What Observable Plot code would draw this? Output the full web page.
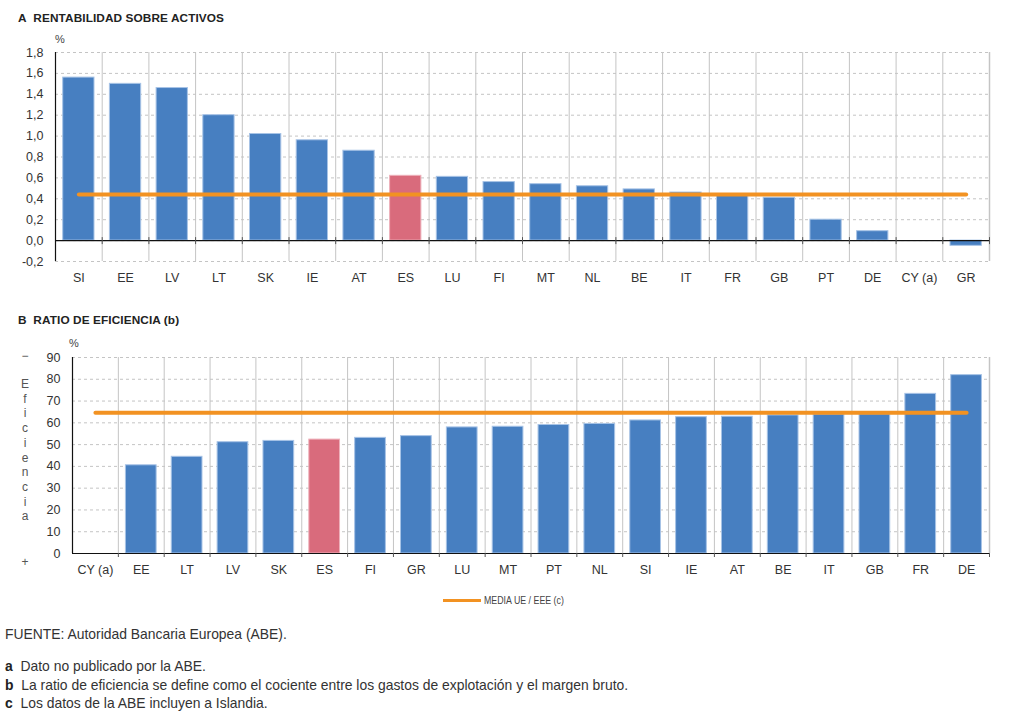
<!DOCTYPE html>
<html lang="es">
<head>
<meta charset="utf-8">
<script src="https://cdn.jsdelivr.net/npm/d3@7"></script>
<script src="https://cdn.jsdelivr.net/npm/@observablehq/plot@0.6"></script>
<style>
  body { margin: 0; background: #fff; }
  #root { position: relative; width: 1024px; height: 724px; font-family: "Liberation Sans", Arial, sans-serif; color: #333; overflow: hidden; }
  .abs { position: absolute; white-space: nowrap; }
  .title { font-size: 11.8px; font-weight: bold; color: #222; letter-spacing: 0.1px; }
  .pct { font-size: 11px; color: #444; }
  .vlabel { font-size: 12px; color: #555; line-height: 14.7px; text-align: center; width: 12px; }
  .note { font-size: 13.9px; color: #333; }
  .note b { font-weight: bold; color: #222; }
  .legend { font-size: 10.5px; color: #444; display: flex; align-items: center; }
  .legend span.sw { display: inline-block; width: 38px; height: 3px; margin-right: 3px; }
  .legend span.tx { display: inline-block; transform: scaleX(0.84); transform-origin: left center; }
</style>
</head>
<body>
<div id="root">
  <div class="abs title" style="left:18px; top:11px;">A&nbsp;&nbsp;RENTABILIDAD SOBRE ACTIVOS</div>
  <div class="abs pct" style="left:55px; top:33px;">%</div>
  <div id="chartA" class="abs" style="left:0; top:30px;"></div>

  <div class="abs title" style="left:18px; top:313px;">B&nbsp;&nbsp;RATIO DE EFICIENCIA (b)</div>
  <div class="abs pct" style="left:69px; top:337px;">%</div>
  <div class="abs vlabel" style="left:19px; top:349px;">−</div>
  <div id="vword" class="abs vlabel" style="left:19px; top:377px;"></div>
  <div class="abs vlabel" style="left:19px; top:555px;">+</div>
  <div id="chartB" class="abs" style="left:0; top:340px;"></div>

  <div id="legend" class="abs legend" style="left:443px; top:594px;"></div>

  <div class="abs note" style="left:5px; top:626px;">FUENTE: Autoridad Bancaria Europea (ABE).</div>
  <div class="abs note" style="left:5px; top:658px;"><b>a</b>&nbsp; Dato no publicado por la ABE.</div>
  <div class="abs note" style="left:5px; top:677px;"><b>b</b>&nbsp; La ratio de eficiencia se define como el cociente entre los gastos de explotación y el margen bruto.</div>
  <div class="abs note" style="left:5px; top:695px;"><b>c</b>&nbsp; Los datos de la ABE incluyen a Islandia.</div>
</div>

<script>
// Panel A: return on assets (%), by country
const catsA = ["SI", "EE", "LV", "LT", "SK", "IE", "AT", "ES", "LU", "FI", "MT", "NL", "BE", "IT", "FR", "GB", "PT", "DE", "CY (a)", "GR"];
const roaA = [1.56, 1.50, 1.46, 1.20, 1.02, 0.96, 0.86, 0.62, 0.61, 0.56, 0.54, 0.52, 0.49, 0.46, 0.44, 0.41, 0.20, 0.09, null, -0.05];
const avgA = 0.44;
const ticksA = [-0.2, 0, 0.2, 0.4, 0.6, 0.8, 1.0, 1.2, 1.4, 1.6, 1.8];

// Panel B: efficiency ratio (%), by country
const catsB = ["CY (a)", "EE", "LT", "LV", "SK", "ES", "FI", "GR", "LU", "MT", "PT", "NL", "SI", "IE", "AT", "BE", "IT", "GB", "FR", "DE"];
const effB = [null, 40.5, 44.4, 51.1, 51.7, 52.3, 53.1, 53.9, 57.9, 58.2, 59.0, 59.5, 61.1, 62.6, 62.8, 63.4, 63.8, 63.9, 73.3, 81.9];
const avgB = 64.6;
const ticksB = [0, 10, 20, 30, 40, 50, 60, 70, 80, 90];

const highlight = "ES";
const avgLabel = "MEDIA UE / EEE (c)";
const sideWord = "Eficiencia";

const BLUE = "#477fc1", BLUE_EDGE = "#a7c3e6";
const PINK = "#d96b7c", PINK_EDGE = "#eeb0ba";
const ORANGE = "#f29222";
const GRID = "#c4c4c4";

const fmtComma = d => d.toFixed(1).replace(".", ",");

function barPanel({cats, values, avg, ticks, yDomain, tickFormat, height, marginLeft, marginTop, marginBottom, tickBoth}) {
  const width = 1024, marginRight = 35, n = cats.length;
  const step = (width - marginLeft - marginRight) / n;
  const rows = cats.map((c, i) => ({c, v: values[i]}));
  const avgRows = [{c: cats[0], v: avg}, {c: cats[n - 1], v: avg}];
  const inner = cats.slice(1);
  const last = [cats[n - 1]];
  const zeroTick = {y1: 0, y2: 0, insetTop: tickBoth ? -3 : 0, insetBottom: -4, stroke: "#555", strokeWidth: 1};
  return Plot.plot({
    width, height, marginLeft, marginRight, marginTop, marginBottom,
    x: {domain: cats, paddingInner: 0.33, paddingOuter: 0.165, round: false, label: null},
    y: {domain: yDomain, label: null},
    style: {fontFamily: "'Liberation Sans', Arial, sans-serif", fontSize: "12px", color: "#333", background: "transparent", overflow: "visible"},
    marks: [
      Plot.gridY(ticks, {stroke: GRID, strokeOpacity: 1, strokeDasharray: "3,3"}),
      // category separators and right border
      Plot.ruleX(inner, {dx: -step / 2, stroke: GRID, strokeWidth: 1}),
      Plot.ruleX(last, {dx: step / 2, stroke: GRID, strokeWidth: 1.5}),
      Plot.barY(rows, {filter: d => d.v != null && d.c !== highlight, x: "c", y: "v", fill: BLUE, stroke: BLUE_EDGE, strokeWidth: 1}),
      Plot.barY(rows, {filter: d => d.v != null && d.c === highlight, x: "c", y: "v", fill: PINK, stroke: PINK_EDGE, strokeWidth: 1}),
      Plot.ruleY([0], {stroke: "#111", strokeWidth: 1.2}),
      // small ticks on the zero line at each category boundary
      Plot.ruleX(inner, {...zeroTick, dx: -step / 2}),
      Plot.ruleX(last, {...zeroTick, dx: step / 2}),
      Plot.ruleX([cats[0]], {dx: -step / 2, stroke: "#111", strokeWidth: 1.2}),
      Plot.line(avgRows, {x: "c", y: "v", stroke: ORANGE, strokeWidth: 4}),
      Plot.axisY({ticks, tickFormat, tickSize: 0, tickPadding: 12, fontSize: 12.5, fill: "#333"}),
      Plot.axisX({tickSize: 0, tickPadding: 12, fontSize: 12.5, fill: "#333"})
    ]
  });
}

const chartA = barPanel({
  cats: catsA, values: roaA, avg: avgA, ticks: ticksA, yDomain: [-0.2, 1.8],
  tickFormat: fmtComma, height: 265, marginLeft: 55, marginTop: 22, marginBottom: 34, tickBoth: true
});
document.getElementById("chartA").appendChild(chartA);

const chartB = barPanel({
  cats: catsB, values: effB, avg: avgB, ticks: ticksB, yDomain: [0, 90],
  tickFormat: d => String(d), height: 245, marginLeft: 72, marginTop: 17, marginBottom: 32, tickBoth: false
});
document.getElementById("chartB").appendChild(chartB);

document.getElementById("vword").innerHTML = sideWord.split("").map(ch => `<div>${ch}</div>`).join("");

document.getElementById("legend").innerHTML =
  `<span class="sw" style="background:${ORANGE}"></span><span class="tx">${avgLabel}</span>`;
</script>
</body>
</html>
